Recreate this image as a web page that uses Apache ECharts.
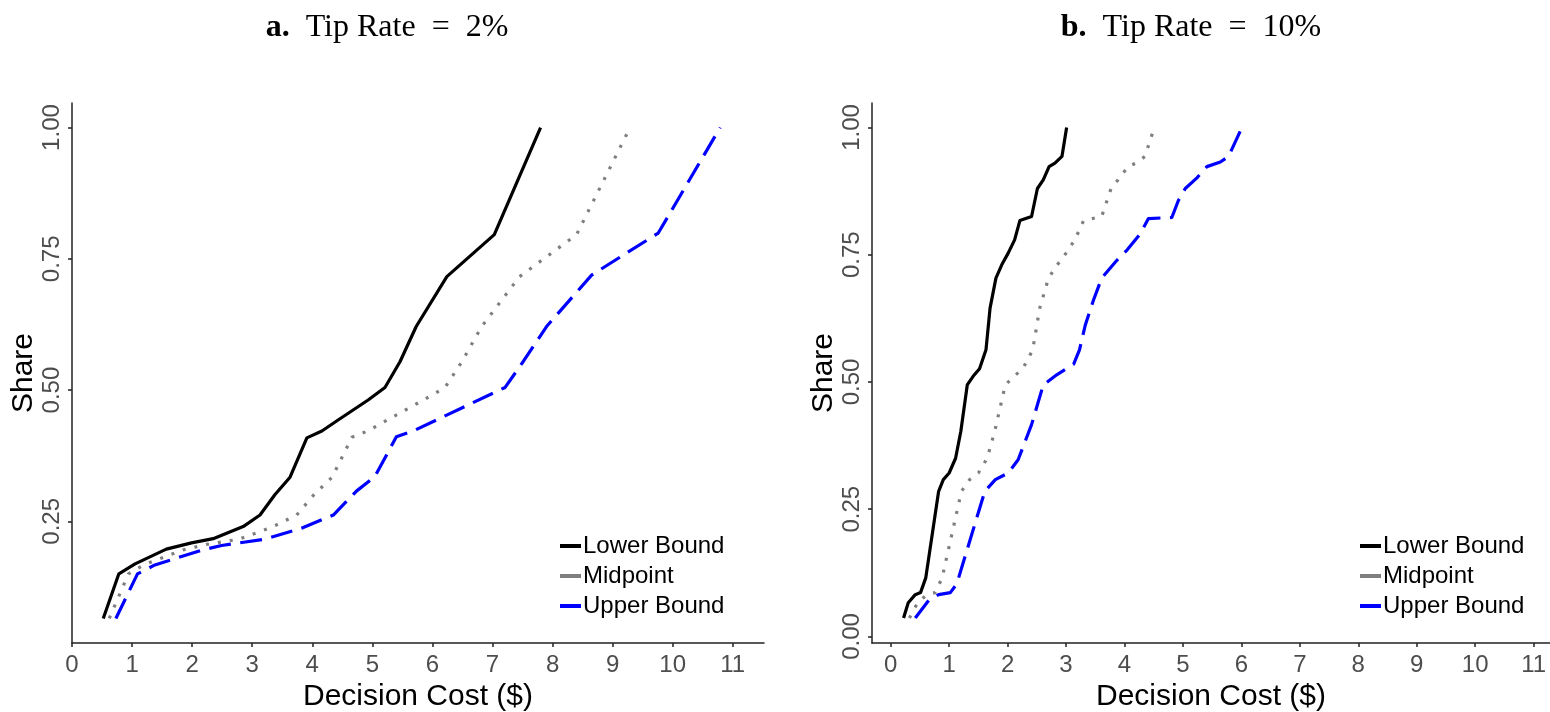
<!DOCTYPE html>
<html>
<head>
<meta charset="utf-8">
<script src="https://cdn.jsdelivr.net/npm/echarts@6/dist/echarts.min.js"></script>
<style>
  html, body { margin: 0; padding: 0; background: #fff; }
  #chart { width: 1550px; height: 712px; }
</style>
</head>
<body>
<div id="chart"></div>
<script>
// panel a: tip rate 2%
const aLowerX = [0.52, 0.78, 1.05, 1.57, 1.99, 2.35, 2.85, 3.13, 3.38, 3.63, 3.91, 4.16, 4.43, 4.68, 4.93, 5.21, 5.46, 5.73, 6.24, 7.03, 7.80];
const aLowerY = [0.065, 0.150, 0.169, 0.197, 0.209, 0.217, 0.240, 0.262, 0.301, 0.334, 0.409, 0.422, 0.443, 0.462, 0.481, 0.505, 0.554, 0.621, 0.716, 0.796, 1.000];
const aMidX = [0.62, 0.94, 1.21, 1.86, 2.24, 2.78, 3.33, 3.74, 4.03, 4.33, 4.66, 4.92, 5.25, 5.55, 5.85, 6.21, 6.49, 6.82, 7.45, 8.40, 9.29];
const aMidY = [0.065, 0.150, 0.168, 0.196, 0.206, 0.216, 0.239, 0.262, 0.301, 0.334, 0.410, 0.422, 0.443, 0.462, 0.481, 0.505, 0.554, 0.621, 0.716, 0.796, 1.000];
const aUpperX = [0.73, 1.09, 1.38, 2.16, 2.49, 3.21, 3.82, 4.35, 4.74, 5.04, 5.40, 5.68, 7.21, 7.51, 7.90, 8.65, 9.76, 10.79];
const aUpperY = [0.065, 0.150, 0.167, 0.195, 0.204, 0.216, 0.237, 0.262, 0.308, 0.335, 0.411, 0.422, 0.505, 0.554, 0.621, 0.719, 0.799, 1.000];

// panel b: tip rate 10%
const bLowerX = [0.22, 0.30, 0.42, 0.51, 0.60, 0.82, 0.90, 1.00, 1.11, 1.20, 1.31, 1.41, 1.52, 1.63, 1.70, 1.80, 1.90, 2.01, 2.12, 2.21, 2.41, 2.51, 2.61, 2.71, 2.81, 2.93, 3.01];
const bLowerY = [0.036, 0.066, 0.082, 0.086, 0.115, 0.285, 0.308, 0.321, 0.350, 0.403, 0.494, 0.511, 0.526, 0.563, 0.645, 0.704, 0.730, 0.753, 0.779, 0.817, 0.825, 0.880, 0.897, 0.923, 0.930, 0.943, 1.000];
const bMidX = [0.32, 0.46, 0.62, 0.76, 0.88, 1.21, 1.35, 1.50, 1.65, 1.78, 1.96, 2.11, 2.26, 2.43, 2.55, 2.70, 2.85, 3.00, 3.15, 3.30, 3.61, 3.77, 3.89, 4.06, 4.20, 4.35, 4.51];
const bMidY = bLowerY;
const bUpperX = [0.42, 0.66, 0.82, 1.02, 1.13, 1.61, 1.79, 2.01, 2.18, 2.41, 2.61, 2.84, 3.13, 3.23, 3.33, 3.47, 3.61, 3.87, 4.05, 4.27, 4.41, 4.81, 4.92, 5.04, 5.24, 5.41, 5.64, 5.78, 6.01];
const bUpperY = [0.036, 0.072, 0.082, 0.086, 0.103, 0.285, 0.308, 0.321, 0.347, 0.416, 0.494, 0.514, 0.535, 0.563, 0.612, 0.661, 0.704, 0.739, 0.760, 0.791, 0.821, 0.823, 0.856, 0.880, 0.901, 0.923, 0.932, 0.943, 1.000];

const xTicks = [0, 1, 2, 3, 4, 5, 6, 7, 8, 9, 10, 11];
const aYTicks = [0.25, 0.5, 0.75, 1.0];
const bYTicks = [0, 0.25, 0.5, 0.75, 1.0];
const names = ["Lower Bound", "Midpoint", "Upper Bound"];

const sans = "Liberation Sans, Arial, Helvetica, sans-serif";
const serif = "Liberation Serif, Times New Roman, serif";
const axisColor = "#222";
const labelColor = "#4d4d4d";

function pairs(xs, ys) {
  return xs.map((x, i) => [x, ys[i]]);
}

function xAxis(idx, min, max) {
  return {
    type: "value",
    gridIndex: idx,
    min: min,
    max: max,
    name: "Decision Cost ($)",
    nameLocation: "middle",
    nameGap: 39,
    nameTextStyle: { fontFamily: sans, fontSize: 30, color: "#000" },
    axisLine: { show: true, onZero: false, lineStyle: { color: axisColor, width: 1.5 } },
    axisTick: { show: true, length: 4, customValues: xTicks, lineStyle: { color: axisColor, width: 1.5 } },
    axisLabel: { customValues: xTicks, margin: 10, fontFamily: sans, fontSize: 24, color: labelColor },
    splitLine: { show: false },
  };
}

function yAxis(idx, min, max, ticks) {
  return {
    type: "value",
    gridIndex: idx,
    min: min,
    max: max,
    name: "Share",
    nameLocation: "middle",
    nameGap: 32,
    nameRotate: 90,
    nameTextStyle: { fontFamily: sans, fontSize: 30, color: "#000" },
    axisLine: { show: true, onZero: false, lineStyle: { color: axisColor, width: 1.5 } },
    axisTick: { show: true, length: 4, customValues: ticks, lineStyle: { color: axisColor, width: 1.5 } },
    axisLabel: {
      customValues: ticks,
      rotate: 90,
      margin: 8,
      fontFamily: sans,
      fontSize: 24,
      color: labelColor,
      formatter: (v) => v.toFixed(2),
    },
    splitLine: { show: false },
  };
}

const styles = [
  { color: "#000000", type: "solid" },
  { color: "#7f7f7f", type: [3, 9] },
  { color: "#0000ff", type: [22, 9.5] },
];

function lines(idx, data) {
  return data.map((d, i) => ({
    name: names[i],
    type: "line",
    xAxisIndex: idx,
    yAxisIndex: idx,
    data: d,
    showSymbol: false,
    symbol: "none",
    color: styles[i].color,
    lineStyle: { color: styles[i].color, width: 3.2, type: styles[i].type, cap: "butt", join: "round" },
    animation: false,
  }));
}

function legend(left) {
  return {
    left: left,
    top: 529,
    orient: "vertical",
    icon: "rect",
    itemWidth: 21,
    itemHeight: 4,
    itemGap: 6,
    selectedMode: false,
    data: names,
    itemStyle: { borderWidth: 0 },
    textStyle: { fontFamily: sans, fontSize: 24, color: "#000", lineHeight: 24, padding: [0, 0, 0, -3] },
  };
}

function title(x, letter, rate) {
  return {
    type: "text",
    x: x,
    y: 28,
    style: {
      text: "{b|" + letter + ".}  Tip Rate  =  " + rate,
      fontFamily: serif,
      fontSize: 32,
      fill: "#000",
      align: "center",
      verticalAlign: "middle",
      rich: { b: { fontFamily: serif, fontSize: 32, fontWeight: "bold" } },
    },
  };
}

let el = document.getElementById("chart");
let mychart = echarts.init(el, null, { renderer: "canvas" });

let option = {
  backgroundColor: "#fff",
  animation: false,
  grid: [
    { left: 72, top: 103, width: 692, height: 540, outerBoundsMode: "none", containLabel: false },
    { left: 872, top: 103, width: 678, height: 540, outerBoundsMode: "none", containLabel: false },
  ],
  xAxis: [xAxis(0, 0, 11.52), xAxis(1, -0.32, 11.28)],
  yAxis: [yAxis(0, 0.0183, 1.0467, aYTicks), yAxis(1, -0.013, 1.048, bYTicks)],
  legend: [legend(555), legend(1355)],
  graphic: [title(387, "a", "2%"), title(1191, "b", "10%")],
  series: [
    ...lines(0, [pairs(aLowerX, aLowerY), pairs(aMidX, aMidY), pairs(aUpperX, aUpperY)]),
    ...lines(1, [pairs(bLowerX, bLowerY), pairs(bMidX, bMidY), pairs(bUpperX, bUpperY)]),
  ],
};
mychart.setOption(option);
</script>
</body>
</html>
